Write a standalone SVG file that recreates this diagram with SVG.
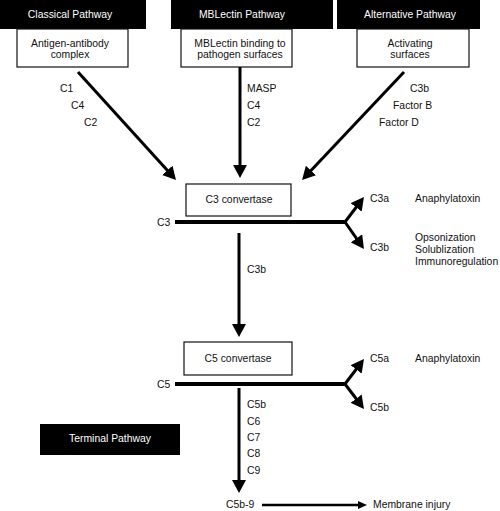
<svg xmlns="http://www.w3.org/2000/svg" width="500" height="511" viewBox="0 0 500 511">
<style>
text{font-family:"Liberation Sans",Arial,sans-serif;font-size:10.4px;fill:#111}
.hd rect{fill:#000}
.hd text{fill:#fff;text-anchor:middle}
.bx rect{fill:#fff;stroke:#111;stroke-width:1.2}
.bx text{text-anchor:middle}
.ln{stroke:#000;stroke-width:3;fill:none}
.main{stroke:#000;stroke-width:4;fill:none}
</style>
<defs>
<marker id="ah" markerUnits="userSpaceOnUse" markerWidth="14" markerHeight="14" refX="3" refY="7" orient="auto" viewBox="0 0 14 14">
<path d="M0,0 L13,7 L0,14 z" fill="#000"/>
</marker>
<marker id="ahs" markerUnits="userSpaceOnUse" markerWidth="10" markerHeight="8" refX="2" refY="4" orient="auto" viewBox="0 0 10 8">
<path d="M0,0 L9,4 L0,8 z" fill="#000"/>
</marker>
</defs>

<g id="classical-header" class="hd"><rect x="0" y="0" width="146" height="29"/><text x="70" y="18">Classical Pathway</text></g>
<g id="mblectin-header" class="hd"><rect x="171" y="0" width="162" height="29"/><text x="242" y="18">MBLectin Pathway</text></g>
<g id="alternative-header" class="hd"><rect x="337" y="0" width="143" height="29"/><text x="410" y="18">Alternative Pathway</text></g>

<g id="antigen-box" class="bx"><rect x="17" y="29" width="111" height="38"/><text x="70" y="47">Antigen-antibody</text><text x="70" y="58">complex</text></g>
<g id="mblectin-box" class="bx"><rect x="181" y="29" width="111" height="38"/><text x="240" y="47">MBLectin binding to</text><text x="240" y="58">pathogen surfaces</text></g>
<g id="activating-box" class="bx"><rect x="357" y="29" width="112" height="38"/><text x="410" y="47">Activating</text><text x="410" y="58">surfaces</text></g>

<g id="c3-convertase" class="bx"><rect x="186" y="184" width="105" height="32"/><text x="239" y="203">C3 convertase</text></g>
<g id="c5-convertase" class="bx"><rect x="184" y="342" width="108" height="33"/><text x="238" y="362">C5 convertase</text></g>
<g id="terminal-pathway" class="hd"><rect x="40" y="424" width="140" height="31"/><text x="110" y="442">Terminal Pathway</text></g>

<g id="connectors">
<line class="ln" x1="78" y1="72" x2="169.3" y2="172.6" marker-end="url(#ah)"/>
<line class="ln" x1="240" y1="67" x2="240" y2="168" marker-end="url(#ah)"/>
<line class="ln" x1="404" y1="72" x2="308.9" y2="172.7" marker-end="url(#ah)"/>
<line class="main" x1="175" y1="222" x2="345" y2="222"/>
<path class="ln" d="M345,222 L357.9,205" marker-end="url(#ah)"/>
<path class="ln" d="M345,222 L358.2,240.8" marker-end="url(#ah)"/>
<line class="ln" x1="239" y1="233" x2="239" y2="327" marker-end="url(#ah)"/>
<line class="main" x1="175" y1="384" x2="345" y2="384"/>
<path class="ln" d="M345,384 L357.9,367" marker-end="url(#ah)"/>
<path class="ln" d="M345,384 L357.9,401" marker-end="url(#ah)"/>
<line class="ln" x1="239" y1="388" x2="239" y2="483" marker-end="url(#ah)"/>
<line x1="262" y1="505" x2="360" y2="505" stroke="#000" stroke-width="2.5" marker-end="url(#ahs)"/>
</g>

<g id="labels">
<text x="60" y="92">C1</text>
<text x="71" y="109">C4</text>
<text x="84" y="126">C2</text>
<text x="247" y="92">MASP</text>
<text x="247" y="109">C4</text>
<text x="247" y="126">C2</text>
<text x="410" y="92">C3b</text>
<text x="393" y="109">Factor B</text>
<text x="379" y="126">Factor D</text>
<text x="157" y="226">C3</text>
<text x="370" y="202">C3a</text>
<text x="415" y="202">Anaphylatoxin</text>
<text x="370" y="251">C3b</text>
<text x="415" y="241">Opsonization</text>
<text x="415" y="253">Solublization</text>
<text x="415" y="265">Immunoregulation</text>
<text x="247" y="273">C3b</text>
<text x="157" y="388">C5</text>
<text x="370" y="362">C5a</text>
<text x="415" y="362">Anaphylatoxin</text>
<text x="370" y="411">C5b</text>
<text x="247" y="408">C5b</text>
<text x="247" y="425">C6</text>
<text x="247" y="441">C7</text>
<text x="247" y="457">C8</text>
<text x="247" y="474">C9</text>
<text x="226" y="508">C5b-9</text>
<text x="373" y="508">Membrane injury</text>
</g>
</svg>
